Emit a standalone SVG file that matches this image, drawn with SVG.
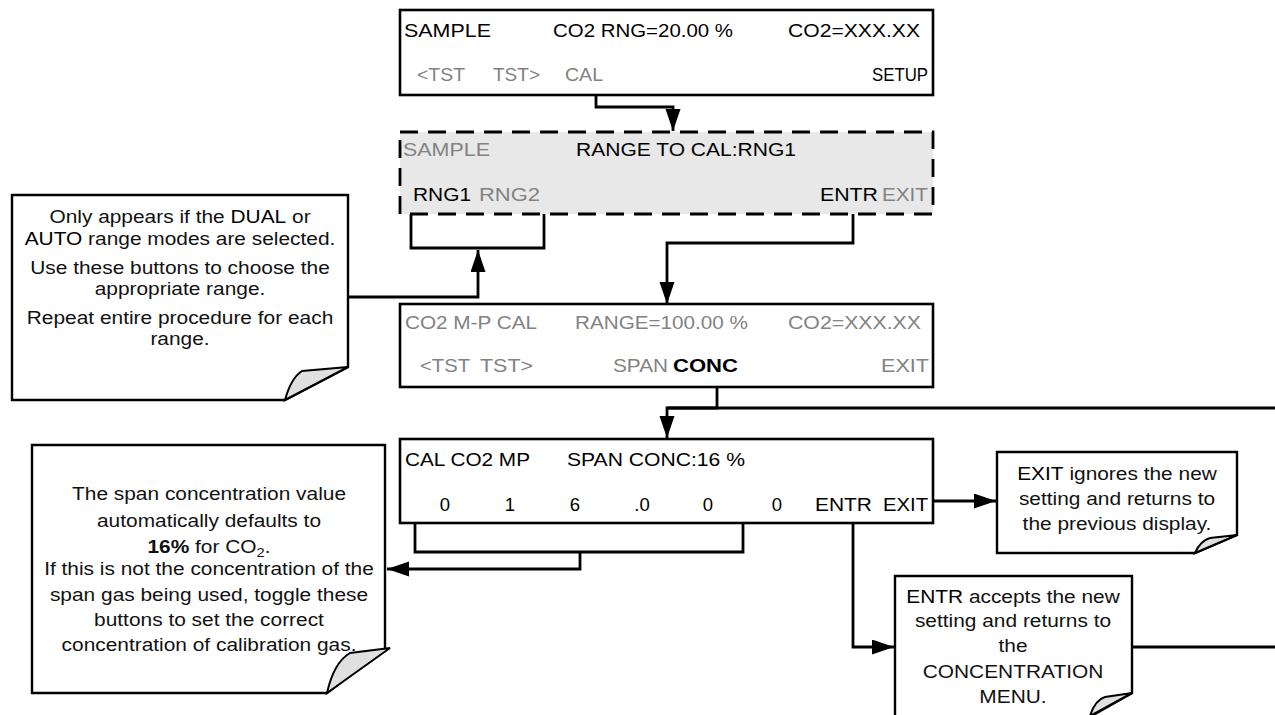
<svg xmlns="http://www.w3.org/2000/svg" width="1275" height="715" viewBox="0 0 1275 715">
<defs>
<style>
.box{fill:#fff;stroke:#000;stroke-width:2.6}
.dbox{fill:#e8e8e8;stroke:#000;stroke-width:2.8;stroke-dasharray:18 10}
.note{fill:#fff;stroke:#000;stroke-width:2.4}
.flap{fill:#e0e0e0;stroke:#000;stroke-width:2}
.t{font-family:"Liberation Sans",Arial,sans-serif;font-size:18.5px;fill:#000}
.g{fill:#828282}
.b{font-weight:bold}
.n{font-family:"Liberation Sans",Arial,sans-serif;font-size:18.5px;fill:#111;text-anchor:middle}
.c{fill:none;stroke:#000;stroke-width:2.8}
.a{marker-end:url(#ah)}
</style>
<marker id="ah" markerUnits="userSpaceOnUse" markerWidth="24" markerHeight="16" refX="22" refY="7.5" orient="auto">
<path d="M0,0 L22,7.5 L0,15 Z" fill="#000"/>
</marker>
</defs>

<g id="connectors">
<path class="c a" d="M596,87 V107 H673 V131"/>
<path class="c" d="M411,199 V248 H544 V199"/>
<path class="c a" d="M348,297 H478 V250"/>
<path class="c a" d="M853,203 V243 H667 V304"/>
<path class="c a" d="M717,384 V408 H667 V438"/>
<path class="c" d="M667,408 H1275"/>
<path class="c" d="M415,512 V552 H743 V510"/>
<path class="c a" d="M580,552 V569 H387"/>
<path class="c a" d="M925,501 H996"/>
<path class="c a" d="M853,515 V647 H894"/>
<path class="c" d="M1132,647 H1275"/>
</g>

<g id="screen-sample">
<rect class="box" x="400" y="10" width="533" height="85"/>
<text class="t" x="404" y="37" textLength="87" lengthAdjust="spacingAndGlyphs">SAMPLE</text>
<text class="t" x="553" y="37" textLength="180" lengthAdjust="spacingAndGlyphs">CO2 RNG=20.00 %</text>
<text class="t" x="788" y="37" textLength="132" lengthAdjust="spacingAndGlyphs">CO2=XXX.XX</text>
<text class="t g" x="417" y="81" textLength="48" lengthAdjust="spacingAndGlyphs">&lt;TST</text>
<text class="t g" x="493" y="81" textLength="47" lengthAdjust="spacingAndGlyphs">TST&gt;</text>
<text class="t g" x="565" y="81" textLength="38" lengthAdjust="spacingAndGlyphs">CAL</text>
<text class="t" x="872" y="81" textLength="56" lengthAdjust="spacingAndGlyphs">SETUP</text>
</g>

<g id="screen-range">
<rect class="dbox" x="400" y="132" width="533" height="82"/>
<text class="t g" x="403" y="156" textLength="87" lengthAdjust="spacingAndGlyphs">SAMPLE</text>
<text class="t" x="576" y="156" textLength="220" lengthAdjust="spacingAndGlyphs">RANGE TO CAL:RNG1</text>
<text class="t" x="413" y="201" textLength="58" lengthAdjust="spacingAndGlyphs">RNG1</text>
<text class="t g" x="479" y="201" textLength="61" lengthAdjust="spacingAndGlyphs">RNG2</text>
<text class="t" x="820" y="201" textLength="58" lengthAdjust="spacingAndGlyphs">ENTR</text>
<text class="t g" x="882" y="201" textLength="46" lengthAdjust="spacingAndGlyphs">EXIT</text>
</g>

<g id="screen-mpcal">
<rect class="box" x="400" y="304" width="533" height="83"/>
<text class="t g" x="405" y="329" textLength="132" lengthAdjust="spacingAndGlyphs">CO2 M-P CAL</text>
<text class="t g" x="575" y="329" textLength="173" lengthAdjust="spacingAndGlyphs">RANGE=100.00 %</text>
<text class="t g" x="788" y="329" textLength="133" lengthAdjust="spacingAndGlyphs">CO2=XXX.XX</text>
<text class="t g" x="420" y="372" textLength="50" lengthAdjust="spacingAndGlyphs">&lt;TST</text>
<text class="t g" x="480" y="372" textLength="53" lengthAdjust="spacingAndGlyphs">TST&gt;</text>
<text class="t g" x="613" y="372" textLength="55" lengthAdjust="spacingAndGlyphs">SPAN</text>
<text class="t b" x="673" y="372" textLength="65" lengthAdjust="spacingAndGlyphs">CONC</text>
<text class="t g" x="881" y="372" textLength="48" lengthAdjust="spacingAndGlyphs">EXIT</text>
</g>

<g id="screen-spanconc">
<rect class="box" x="400" y="439" width="533" height="84"/>
<text class="t" x="405" y="466" textLength="125" lengthAdjust="spacingAndGlyphs">CAL CO2 MP</text>
<text class="t" x="567" y="466" textLength="178" lengthAdjust="spacingAndGlyphs">SPAN CONC:16 %</text>
<g class="t" style="text-anchor:middle">
<text x="445" y="511">0</text>
<text x="510" y="511">1</text>
<text x="575" y="511">6</text>
<text x="642" y="511">.0</text>
<text x="708" y="511">0</text>
<text x="777" y="511">0</text>
</g>
<text class="t" x="815" y="511" textLength="57" lengthAdjust="spacingAndGlyphs">ENTR</text>
<text class="t" x="883" y="511" textLength="45" lengthAdjust="spacingAndGlyphs">EXIT</text>
</g>

<g id="note-range">
<path class="note" d="M12,195 H348 V367 L285,400 H12 Z"/>
<path class="flap" d="M285,400 Q291,378 302,371 L348,367 Z"/>
<g transform="translate(180 0) scale(1.13 1)">
<text class="n" x="0" y="223">Only appears if the <tspan fill="#000">DUAL</tspan> or</text>
<text class="n" x="0" y="245"><tspan fill="#000">AUTO</tspan> range modes are selected.</text>
<text class="n" x="0" y="274">Use these buttons to choose the</text>
<text class="n" x="0" y="295">appropriate range.</text>
<text class="n" x="0" y="324">Repeat entire procedure for each</text>
<text class="n" x="0" y="345">range.</text>
</g>
</g>

<g id="note-span">
<path class="note" d="M32,445 H385 V649 L327,693 H32 Z"/>
<path class="flap" d="M327,693 C331,675 338,660 350,653 L390,648 Z"/>
<g transform="translate(209 0) scale(1.13 1)">
<text class="n" x="0" y="500">The span concentration value</text>
<text class="n" x="0" y="527">automatically defaults to</text>
<text class="n" x="0" y="553"><tspan font-weight="bold">16%</tspan> for CO<tspan font-size="13" dy="4">2</tspan><tspan dy="-4">.</tspan></text>
<text class="n" x="0" y="575">If this is not the concentration of the</text>
<text class="n" x="0" y="601">span gas being used, toggle these</text>
<text class="n" x="0" y="626">buttons to set the correct</text>
<text class="n" x="0" y="651">concentration of calibration gas.</text>
</g>
</g>

<g id="note-exit">
<path class="note" d="M997,452 H1237 V535 L1195,553 H997 Z"/>
<path class="flap" d="M1195,553 Q1200,541 1210,538 L1237,535 Z"/>
<g transform="translate(1117 0) scale(1.13 1)">
<text class="n" x="0" y="480"><tspan fill="#000">EXIT</tspan> ignores the new</text>
<text class="n" x="0" y="505">setting and returns to</text>
<text class="n" x="0" y="530">the previous display.</text>
</g>
</g>

<g id="note-entr">
<path class="note" d="M895,576 H1132 V693 L1088,718 H895 Z"/>
<path class="flap" d="M1090,716 Q1095,700 1105,697 L1132,693 Z"/>
<g transform="translate(1013 0) scale(1.13 1)">
<text class="n" x="0" y="603"><tspan fill="#000">ENTR</tspan> accepts the new</text>
<text class="n" x="0" y="627">setting and returns to</text>
<text class="n" x="0" y="652">the</text>
<text class="n" x="0" y="678">CONCENTRATION</text>
<text class="n" x="0" y="703">MENU.</text>
</g>
</g>
</svg>
